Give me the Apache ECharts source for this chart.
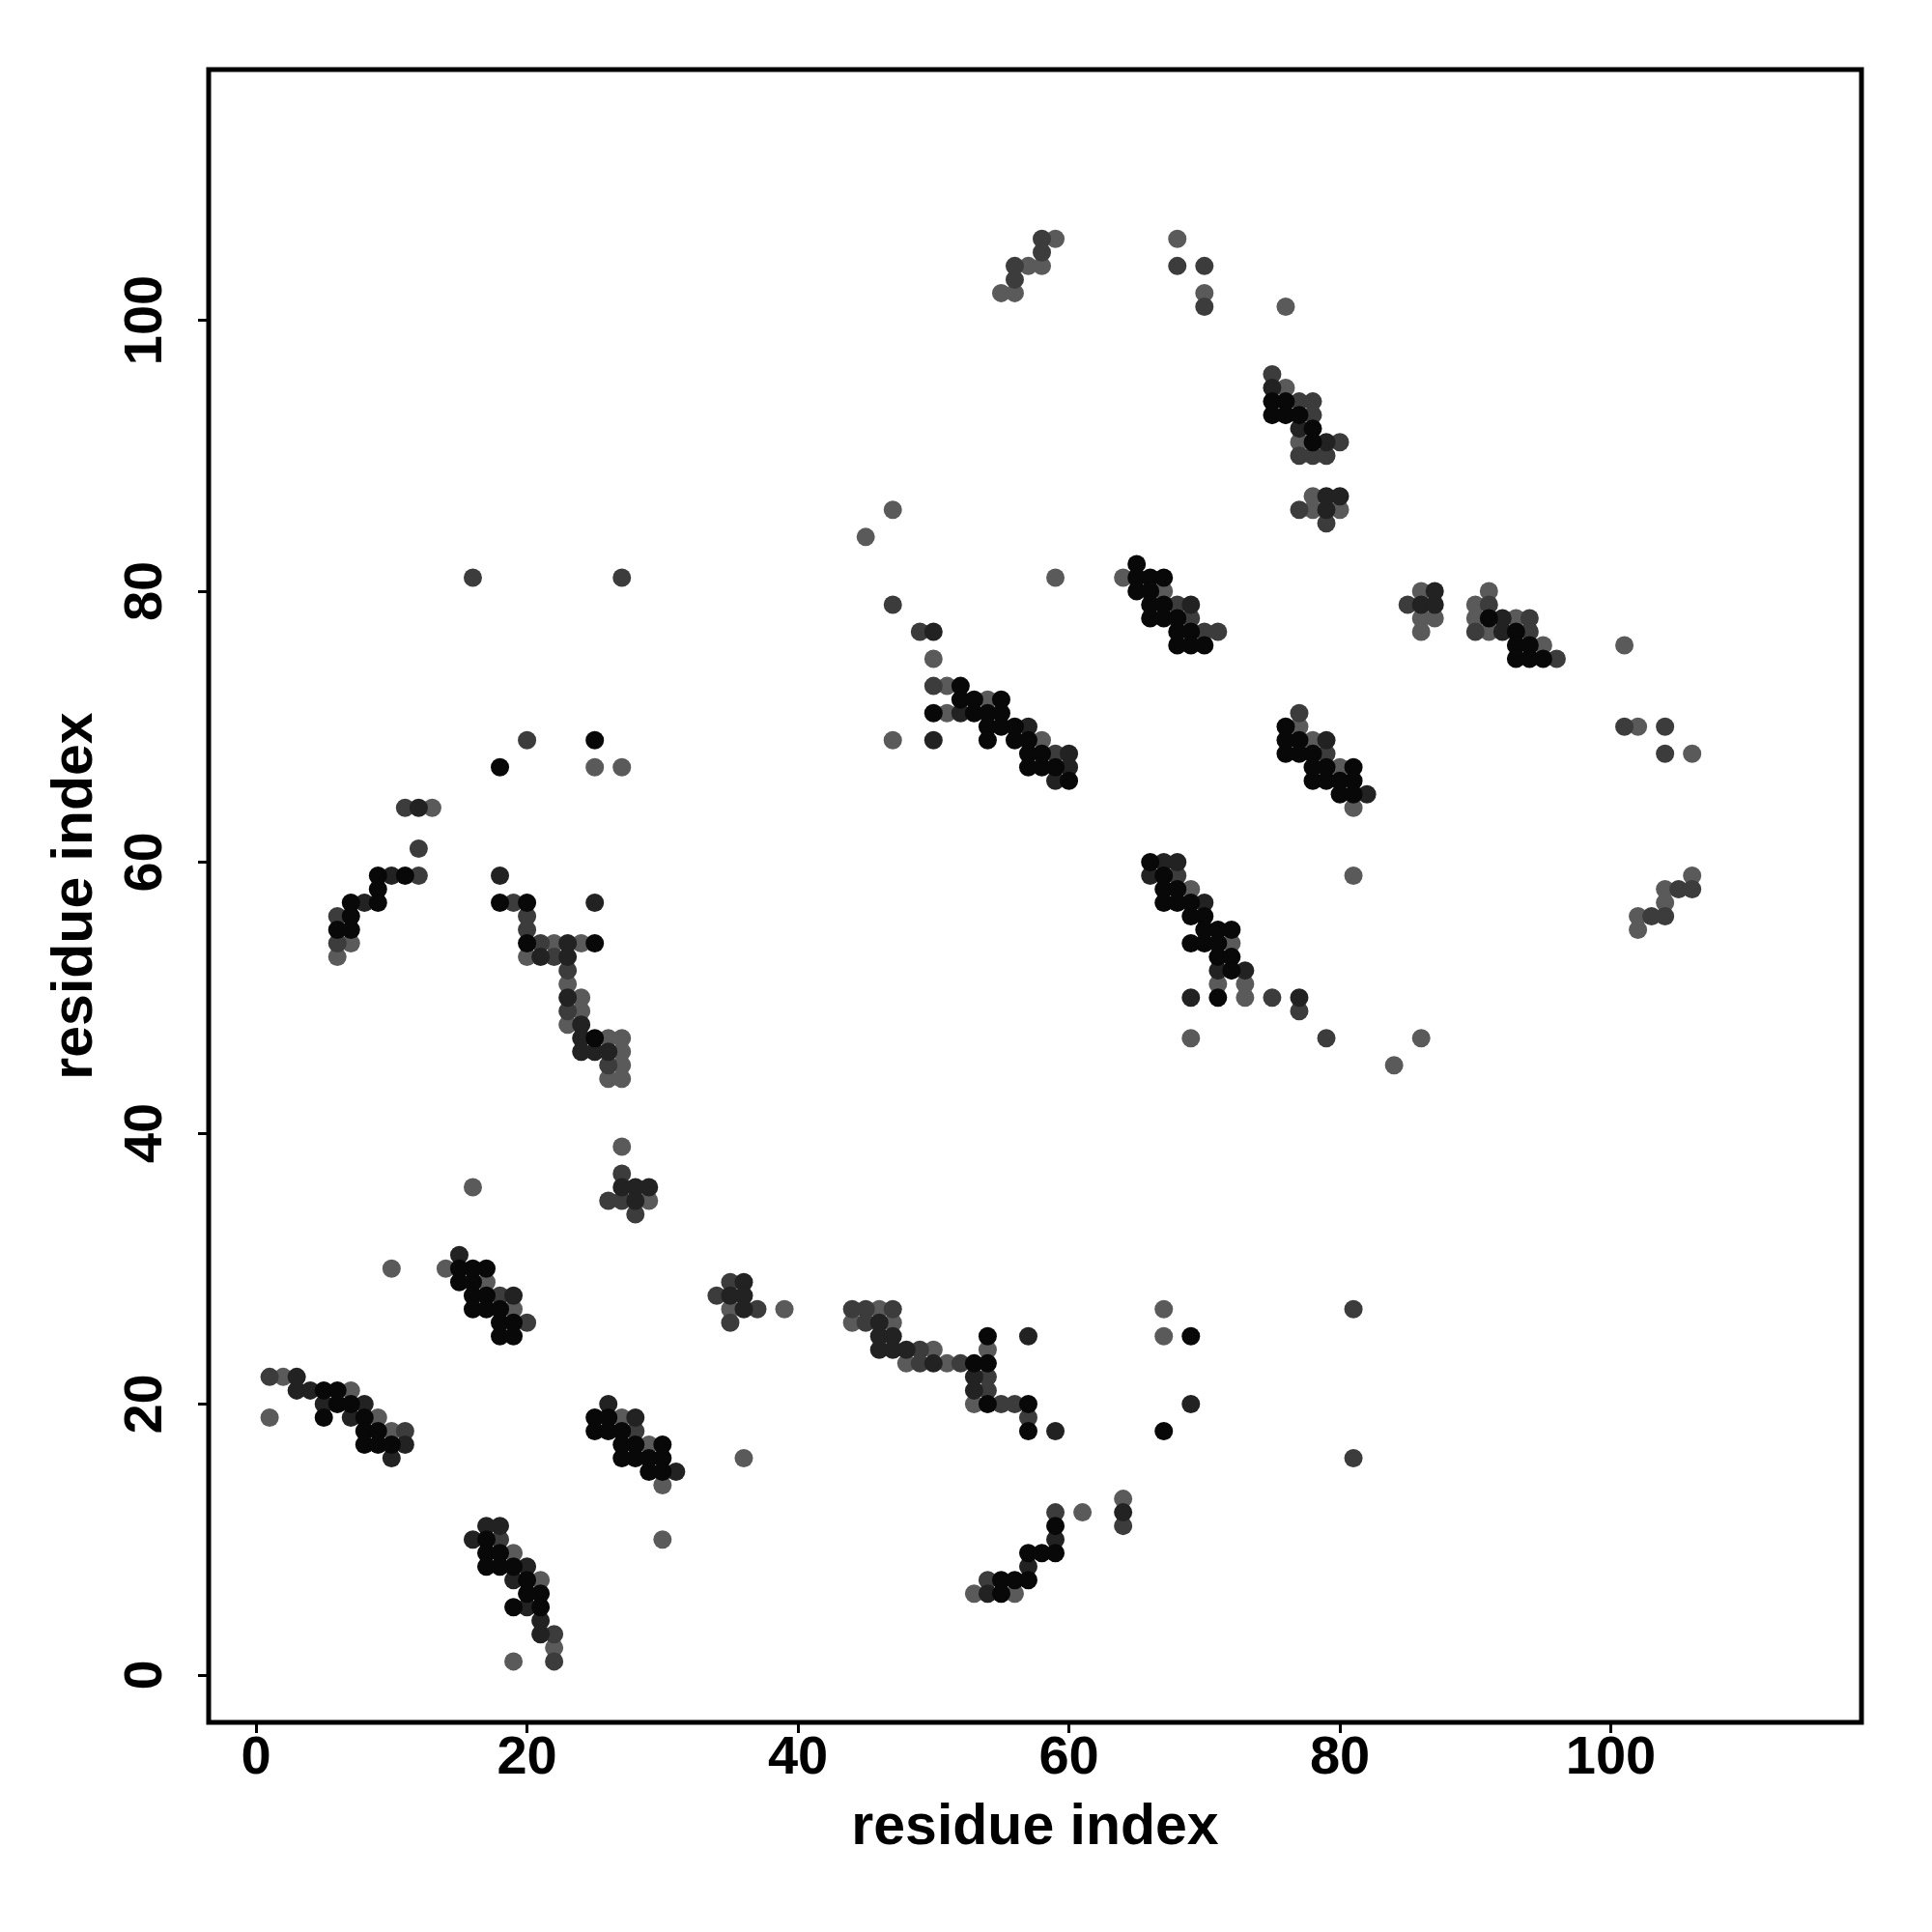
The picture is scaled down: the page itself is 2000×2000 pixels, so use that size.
<!DOCTYPE html>
<html><head><meta charset="utf-8">
<script src="https://cdn.jsdelivr.net/npm/echarts@6/dist/echarts.min.js"></script>
<style>html,body{margin:0;padding:0;background:#fff}#c{width:2000px;height:2000px}</style>
</head><body><div id="c"></div>
<script>
const xTicks = [0, 20, 40, 60, 80, 100];
const yTicks = [0, 20, 40, 60, 80, 100];

// contacts drawn in black (strongest)
const contactsBlack = [
[52,73],[52,72],[53,72],[55,72],[50,71],[53,71],[54,71],[55,71],[65,82],[65,81],[66,81],[67,81],[65,80],[66,80],[66,79],[67,79],[66,78],[67,78],[68,78],[68,77],[69,77],[68,76],[69,76],[70,76],
[75,94],[76,94],[75,93],[76,93],[77,93],[78,92],[78,91],[91,78],[93,77],[93,76],[94,76],[93,75],[94,75],[95,75],
[25,69],[18,67],[9,59],[11,59],[9,58],[7,57],[9,57],[7,56],[6,55],[7,55],[18,57],[20,57],[20,54],[25,54],[25,47],
[54,70],[55,70],[56,70],[54,69],[56,69],[57,69],[57,68],[58,68],[57,67],[58,67],[59,67],[60,66],[66,60],[67,59],[67,58],[68,58],[67,57],[68,57],[69,57],[69,56],[70,56],[70,55],[71,55],[72,55],[69,54],[70,54],[71,54],[71,53],[72,53],[72,52],[71,50],
[76,70],[76,69],[77,69],[76,68],[77,68],[78,68],[78,67],[79,67],[81,67],[78,66],[79,66],[80,66],[81,66],[80,65],[81,65],
[15,30],[16,30],[17,30],[15,29],[16,29],[16,28],[17,28],[16,27],[17,27],[18,27],[18,26],[19,26],[18,25],[19,25],[5,21],[6,21],[6,20],[7,20],[5,19],[8,19],[8,18],[9,18],[8,17],[9,17],[10,17],
[25,19],[26,19],[25,18],[26,18],[27,18],[27,17],[28,17],[30,17],[27,16],[28,16],[29,16],[30,16],[29,15],[30,15],
[17,10],[17,9],[18,9],[17,8],[18,8],[19,8],[20,7],[20,6],[21,6],[19,5],[21,5],
[53,23],[54,23],[54,25],[54,20],[57,20],[57,18],[69,25],[67,18],[59,11],[57,9],[58,9],[59,9],[55,7],[56,7],[57,7],[55,6]
];

// contacts drawn in very dark grey
const contactsDark = [
[50,77],[52,71],[69,79],
[75,95],[77,92],[79,91],[79,87],[80,87],[79,86],[87,80],[86,79],[87,79],[92,78],[92,77],
[12,64],[10,59],[8,57],[18,59],[25,57],[23,54],[21,53],[23,53],[23,50],[24,48],[24,47],[24,46],[25,46],[26,46],[27,36],[28,36],[29,36],
[50,69],[57,70],[60,68],[60,67],[59,66],[67,60],[68,60],[66,59],[70,57],[71,52],[73,52],[69,50],
[79,69],[82,65],[77,50],
[28,35],[15,31],[19,28],[36,29],[35,28],[36,28],[36,27],[3,22],[3,21],[4,21],[5,20],[8,20],[7,19],[11,17],[10,16],[26,20],[28,19],[31,15],[17,11],[18,11],[16,10],[20,8],[19,7],[20,5],[21,4],[21,3],
[46,26],[46,25],[47,25],[46,24],[47,24],[48,24],[50,23],[57,25],[53,22],[53,21],[59,18],[69,20],[64,12],[59,10],[57,8],[54,6]
];

// contacts drawn in dark grey
const contactsMid = [
[58,106],[58,105],[56,104],[56,103],[68,104],[70,104],[70,101],[47,79],[49,77],[50,73],[68,79],[69,78],[70,77],[71,77],
[75,96],[77,94],[78,94],[78,93],[80,91],[77,90],[78,90],[79,90],[77,86],[79,85],[85,79],[91,79],[94,78],[90,77],[94,77],[96,75],
[20,69],[11,64],[12,61],[12,59],[6,56],[6,54],[19,57],[20,56],[20,55],[21,54],[22,53],[23,52],[23,49],[26,45],[27,37],
[59,68],[68,59],
[77,71],[79,68],[101,70],[104,70],[104,68],[105,58],[106,58],[103,56],[104,56],[75,50],[77,49],[79,47],
[26,35],[27,35],[28,34],[18,28],[20,26],[34,28],[35,29],[37,27],[35,26],[1,22],[11,18],[28,18],[18,10],[22,3],[22,1],
[44,27],[45,27],[47,27],[45,26],[49,24],[49,23],[52,23],[54,22],[54,21],[55,20],[56,20],[57,19],[64,11],[59,12],[54,7],
[81,27],[81,16],[16,81],[27,81]
];

// contacts drawn in medium grey (weakest)
const contactsGrey = [
[59,106],[57,104],[58,104],[55,102],[56,102],[68,106],[70,102],[47,86],[45,84],[59,81],[50,75],[51,73],[54,72],[51,71],[64,81],[67,80],
[76,101],[76,95],[77,91],[78,87],[78,86],[80,86],[86,80],[86,78],[87,78],[86,77],[91,80],[90,79],[90,78],[93,78],[91,77],[95,76],[101,76],
[25,67],[27,67],[13,64],[7,54],[6,53],[22,54],[24,54],[20,53],[23,51],[24,50],[24,49],[23,48],[26,47],[27,47],[27,46],[27,45],[26,44],[27,44],[27,39],[16,36],
[47,69],[58,69],[69,58],[72,54],[71,51],[73,51],[73,50],[69,47],
[77,70],[78,69],[80,67],[81,64],[81,59],[102,70],[106,68],[106,59],[104,58],[104,57],[102,56],[102,55],[86,47],[84,45],
[29,35],[10,30],[14,30],[17,29],[19,27],[35,27],[39,27],[2,22],[7,21],[1,19],[9,19],[10,18],[27,19],[29,17],[30,14],[30,10],[36,16],[19,9],[21,7],[22,2],[19,1],
[46,27],[44,26],[47,26],[50,24],[48,23],[51,23],[54,24],[53,20],[67,27],[67,25],[64,13],[61,12],[53,6],[56,6]
];

const chart = echarts.init(document.getElementById('c'), null, {renderer: 'canvas'});
const font = '"Liberation Sans", Arial, Helvetica, sans-serif';
function mkAxis(ticks, isY) {
  return {
    type: 'value', min: -3.5, max: 118.5,
    name: 'residue index', nameLocation: 'middle',
    nameGap: isY ? 108 : 80,
    nameTextStyle: {fontFamily: font, fontWeight: 'bold', fontSize: 59, color: '#000'},
    axisLine: {show: false, onZero: false},
    axisTick: {show: true, inside: false, length: 11, customValues: ticks, lineStyle: {color: '#000', width: 3}},
    axisLabel: {show: true, customValues: ticks, margin: isY ? 36 : 10, rotate: isY ? 90 : 0,
      fontFamily: font, fontWeight: 'bold', fontSize: 56, color: '#000'},
    splitLine: {show: false}
  };
}
function mkSeries(data, color) {
  return {type: 'scatter', data: data, symbol: 'circle', symbolSize: 19,
    itemStyle: {color: color, opacity: 1}, silent: true, animation: false};
}
chart.setOption({
  animation: false,
  backgroundColor: '#fff',
  grid: {left: 216, right: 73, top: 72, bottom: 217, show: true, borderColor: '#000', borderWidth: 5, backgroundColor: 'transparent', containLabel: false},
  xAxis: mkAxis(xTicks, false),
  yAxis: mkAxis(yTicks, true),
  series: [
    mkSeries(contactsGrey, '#5a5a5a'),
    mkSeries(contactsMid, '#3c3c3c'),
    mkSeries(contactsDark, '#222222'),
    mkSeries(contactsBlack, '#080808')
  ]
});
</script></body></html>
